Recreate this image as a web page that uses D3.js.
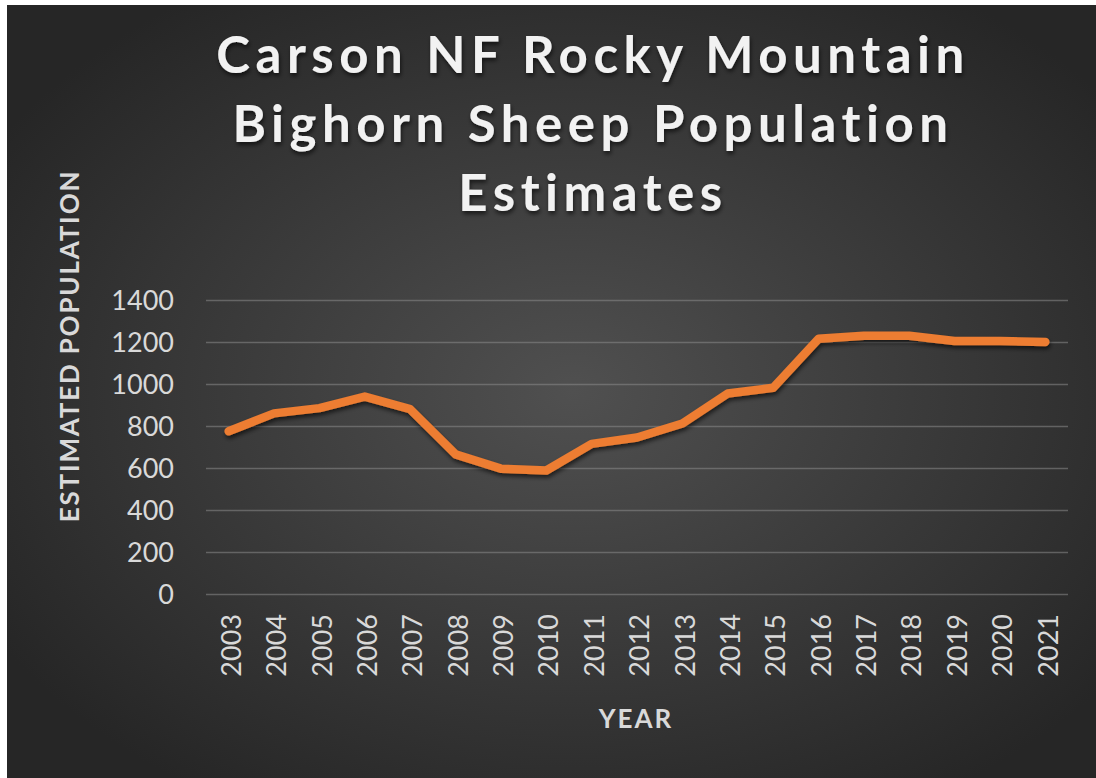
<!DOCTYPE html>
<html>
  <head>
    <meta charset="UTF-8">
    <script src="https://d3js.org/d3.v7.min.js"></script>
    <style>
      body { margin: 0; background: #fff; }
      .gridlines .domain { stroke: none }
      .gridlines line { stroke: #8a8a8a; stroke-opacity: 0.55; stroke-width: 1.5 }
      .axis text { fill: #d9d9d9; font-family: Lato, "Open Sans", sans-serif; font-size: 27px }
      .axis .domain, .axis line { stroke: none }
    </style>
    <title>Bighorn Sheep</title>
  </head>
  <body>
    <svg id="chart" width="1096" height="778"></svg>
    <script>
      const years = ["2003","2004","2005","2006","2007","2008","2009","2010","2011","2012",
                     "2013","2014","2015","2016","2017","2018","2019","2020","2021"];
      const population = [775, 860, 885, 940, 880, 665, 597, 588, 715, 745,
                          812, 955, 982, 1215, 1230, 1230, 1205, 1205, 1200];
      const yTicks = [0, 200, 400, 600, 800, 1000, 1200, 1400];
      const titleLines = ["Carson NF Rocky Mountain", "Bighorn Sheep Population", "Estimates"];

      const svg = d3.select("svg#chart");
      const margin = {top: 300, left: 206, right: 28, bottom: 184};
      const width = 1096, height = 778;
      const chartWidth = width - margin.left - margin.right;
      const chartHeight = height - margin.top - margin.bottom;

      // background
      const defs = svg.append("defs");
      const grad = defs.append("radialGradient").attr("id", "bg")
        .attr("cx", "52%").attr("cy", "50%").attr("r", "62%");
      grad.append("stop").attr("offset", "0%").attr("stop-color", "#505050");
      grad.append("stop").attr("offset", "100%").attr("stop-color", "#262626");

      const shadow = defs.append("filter").attr("id", "shadow")
        .attr("x", "-10%").attr("y", "-20%").attr("width", "120%").attr("height", "150%");
      shadow.append("feDropShadow").attr("dx", 1).attr("dy", 3).attr("stdDeviation", 2)
        .attr("flood-color", "#000").attr("flood-opacity", 0.6);

      svg.append("rect").attr("x", 7).attr("y", 5).attr("width", width - 7).attr("height", height - 5)
        .attr("fill", "url(#bg)");

      let plot = svg.append("g").attr("transform", "translate(" + margin.left + "," + margin.top + ")");

      const xScale = d3.scalePoint().domain(years).range([0, chartWidth]).padding(0.5);
      const yScale = d3.scaleLinear().domain([0, 1400]).range([chartHeight, 0]);

      let y_grid = d3.axisLeft(yScale).tickValues(yTicks).tickFormat("").tickSize(-chartWidth);
      plot.append("g").attr("class", "gridlines").call(y_grid);

      let y_axis = d3.axisLeft(yScale).tickValues(yTicks).tickFormat(d3.format("d"))
        .tickSize(0).tickPadding(32);
      plot.append("g").attr("class", "axis").call(y_axis)
        .selectAll("text").attr("dy", "0.36em");

      let x_axis = d3.axisBottom(xScale).tickSize(0);
      plot.append("g").attr("class", "axis")
        .attr("transform", "translate(0," + chartHeight + ")")
        .call(x_axis)
        .selectAll("text")
        .attr("transform", "rotate(-90)")
        .attr("text-anchor", "end")
        .attr("x", -20).attr("y", 2).attr("dy", "0.36em");

      const line = d3.line().x((d, i) => xScale(years[i])).y(d => yScale(d));
      plot.append("path").datum(population)
        .attr("d", line)
        .attr("fill", "none")
        .attr("stroke", "#ED7D31")
        .attr("stroke-width", 8.5)
        .attr("stroke-linejoin", "round")
        .attr("stroke-linecap", "round")
        .attr("filter", "url(#shadow)");

      // title
      svg.append("g").attr("filter", "url(#shadow)")
        .selectAll("text").data(titleLines).enter().append("text")
        .attr("x", 593).attr("y", (d, i) => 73 + i * 69)
        .attr("text-anchor", "middle")
        .attr("fill", "#f2f2f2")
        .style("font-family", "Lato, 'Open Sans', sans-serif")
        .style("font-weight", "bold")
        .style("font-size", "51px")
        .style("letter-spacing", "5.5px")
        .text(d => d);

      svg.append("text")
        .attr("transform", "translate(79,346) rotate(-90)")
        .attr("text-anchor", "middle")
        .attr("fill", "#d9d9d9")
        .style("font-family", "Lato, 'Open Sans', sans-serif")
        .style("font-weight", "bold").style("font-size", "26px")
        .style("letter-spacing", "1.8px")
        .text("ESTIMATED POPULATION");

      svg.append("text")
        .attr("x", 636).attr("y", 728)
        .attr("text-anchor", "middle")
        .attr("fill", "#d9d9d9")
        .style("font-family", "Lato, 'Open Sans', sans-serif")
        .style("font-weight", "bold").style("font-size", "26px")
        .style("letter-spacing", "2px")
        .text("YEAR");
    </script>
  </body>
</html>
